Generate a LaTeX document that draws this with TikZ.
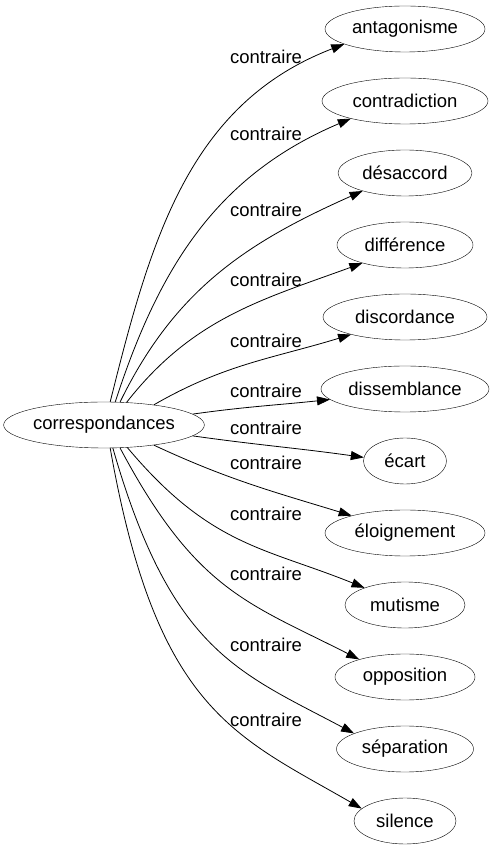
\documentclass[tikz,border=0pt]{standalone}
\usepackage{fontspec}
\setmainfont{Liberation Sans}
\usetikzlibrary{shapes.geometric,arrows.meta}

\begin{document}
\begin{tikzpicture}[x=1pt, y=1pt,
    mot/.style={draw, ellipse, inner sep=0pt, minimum height=46pt, font=\fontsize{18.5}{22}\selectfont},
    lien/.style={-{Triangle[length=13pt,width=9pt]}, line width=0.8pt},
    rel/.style={font=\fontsize{18.5}{22}\selectfont, anchor=base}]
    \useasboundingbox (0,0) rectangle (494,851);

    % Source
    \node[mot, minimum width=198pt] (src) at (104,426) {correspondances};

    % Contraires
    \node[mot, minimum width=160pt] (antagonisme) at (405,822) {antagonisme};
    \node[mot, minimum width=166pt] (contradiction) at (405,750) {contradiction};
    \node[mot, minimum width=134pt] (desaccord) at (405,678) {désaccord};
    \node[mot, minimum width=136pt] (difference) at (405,606) {différence};
    \node[mot, minimum width=164pt] (discordance) at (405,534) {discordance};
    \node[mot, minimum width=168pt] (dissemblance) at (405,462) {dissemblance};
    \node[mot, minimum width=83pt] (ecart) at (405,390) {écart};
    \node[mot, minimum width=160pt] (eloignement) at (405,318) {éloignement};
    \node[mot, minimum width=120pt] (mutisme) at (405,246) {mutisme};
    \node[mot, minimum width=140pt] (opposition) at (405,174) {opposition};
    \node[mot, minimum width=137pt] (separation) at (405,102) {séparation};
    \node[mot, minimum width=102pt] (silence) at (405,30) {silence};

    % Liens
    \draw[lien] (src.75) to[out=76, in=201] (antagonisme.194);
    \draw[lien] (src.64) to[out=72, in=203] (contradiction.198);
    \draw[lien] (src.55) to[out=64, in=204] (desaccord.203);
    \draw[lien] (src.45) to[out=52, in=200] (difference.203);
    \draw[lien] (src.22) to[out=30, in=197] (discordance.198);
    \draw[lien] (src.7) to[out=8, in=186] (dissemblance.188);
    \draw[lien] (src.353) to[out=-8, in=172] (ecart.175);
    \draw[lien] (src.338) to[out=-25, in=163] (eloignement.162);
    \draw[lien] (src.316) to[out=-50, in=158, out looseness=1.2] (mutisme.157);
    \draw[lien] (src.305) to[out=-62, in=153, out looseness=1.3] (opposition.159);
    \draw[lien] (src.291) to[out=-74, in=152, out looseness=1.45, in looseness=0.9] (separation.163);
    \draw[lien] (src.285) to[out=-80, in=150, out looseness=1.55, in looseness=0.85] (silence.164);

    % Etiquettes
    \node[rel] (r1) at (266,787) {contraire};
    \node[rel] (r2) at (266,710) {contraire};
    \node[rel] (r3) at (266,634) {contraire};
    \node[rel] (r4) at (266,564) {contraire};
    \node[rel] (r5) at (266,503) {contraire};
    \node[rel] (r6) at (266,453) {contraire};
    \node[rel] (r7) at (266,416) {contraire};
    \node[rel] (r8) at (266,381) {contraire};
    \node[rel] (r9) at (266,330) {contraire};
    \node[rel] (r10) at (266,270) {contraire};
    \node[rel] (r11) at (266,199) {contraire};
    \node[rel] (r12) at (266,124) {contraire};
\end{tikzpicture}
\end{document}
